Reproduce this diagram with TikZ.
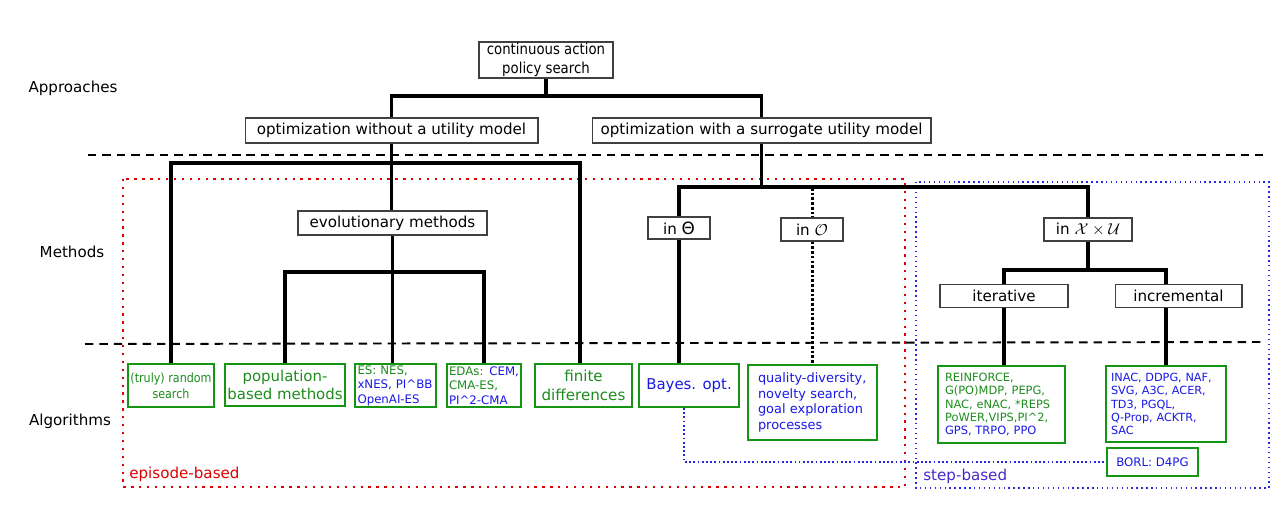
\documentclass[tikz,border=0pt]{standalone}
\usepackage{fontspec}
\setmainfont{DejaVu Sans}
\newfontfamily\condfont[FakeStretch=0.88]{DejaVu Sans}
\usepackage{tikz}

\definecolor{algogreen}{RGB}{20,150,20}
\definecolor{textgreen}{RGB}{30,140,30}
\definecolor{textblue}{RGB}{25,25,230}
\definecolor{epired}{RGB}{220,0,0}
\definecolor{stepblue}{RGB}{40,40,225}
\definecolor{steptext}{RGB}{70,40,200}

\newcommand\boxfnt{\fontsize{8.6pt}{10.3pt}\selectfont}
\newcommand\algofnt{\fontsize{8.5pt}{10.5pt}\selectfont}

\tikzset{
  box/.style={draw=black!75,line width=0.6pt,fill=white,inner sep=0pt,font=\boxfnt},
  algo/.style={draw=algogreen,line width=1.2pt,fill=white,inner sep=0pt},
  lbl/.style={inner sep=0pt,font=\boxfnt},
  tree/.style={line width=1.8pt},
  blackdots/.style={line width=1.7pt,dash pattern=on 1.5pt off 1.2pt},
  sep/.style={line width=1.1pt,dash pattern=on 4.8pt off 3.4pt},
  epidots/.style={draw=epired,line width=1.4pt,dash pattern=on 1.3pt off 3.2pt},
  stepdots/.style={draw=stepblue,line width=0.9pt,dash pattern=on 0.8pt off 2pt},
  bluedots/.style={draw=stepblue,line width=1.1pt,dash pattern=on 1pt off 1.4pt}
}

\begin{document}
\begin{tikzpicture}[x=0.02cm,y=-0.02cm]
  \useasboundingbox (0,0) rectangle (1284,515);
  % row labels
  \node[lbl] (appr) at (73,88) {Approaches};
  \node[lbl] (meth) at (72,252) {Methods};
  \node[lbl] (algs) at (70,421) {Algorithms};
  % approaches
  \node[box,minimum width=2.68cm,minimum height=0.72cm,align=center,
        font=\condfont\fontsize{8.6pt}{10.6pt}\selectfont] (top) at (546,60)
        {continuous action\\policy search};
  \node[box,minimum width=5.86cm,minimum height=0.5cm] (wo) at (391.5,130.5)
        {optimization without a utility model};
  \node[box,minimum width=6.78cm,minimum height=0.5cm] (ws) at (761.5,130.5)
        {optimization with a surrogate utility model};
  % methods
  \node[box,minimum width=3.78cm,minimum height=0.48cm] (evo) at (392.5,223) {evolutionary methods};
  \node[box,minimum width=1.24cm,minimum height=0.44cm] (theta) at (679,228)
        {in {\fontsize{9.6pt}{10pt}\selectfont Θ}};
  \node[box,minimum width=1.24cm,minimum height=0.46cm] (obs) at (812,229.5) {in $\mathcal{O}$};
  \node[box,minimum width=1.76cm,minimum height=0.46cm] (xu) at (1088,229.5)
        {in $\mathcal{X}\times\mathcal{U}$};
  \node[box,minimum width=2.56cm,minimum height=0.46cm] (iter) at (1004,296) {iterative};
  \node[box,minimum width=2.54cm,minimum height=0.46cm] (incr) at (1178.5,296) {incremental};
  % algorithms
  \node[algo,minimum width=1.72cm,minimum height=0.86cm,align=center,text=textgreen,
        font=\condfont\fontsize{7.2pt}{9pt}\selectfont] (random) at (171,385.5)
        {(truly) random\\search};
  \node[algo,minimum width=2.4cm,minimum height=0.84cm,align=center,text=textgreen,
        font=\fontsize{8.5pt}{10pt}\selectfont] (pop) at (285,385)
        {population-\\based methods};
  \node[algo,minimum width=1.62cm,minimum height=0.86cm,text width=1.52cm,inner xsep=0.05cm,
        align=left,text=textblue,font=\fontsize{6.7pt}{8.2pt}\selectfont] (es) at (395.5,385.5)
        {{\color{textgreen}ES: NES,}\\xNES, PI\textasciicircum BB\\OpenAI-ES};
  \node[algo,minimum width=1.48cm,minimum height=0.86cm,text width=1.4cm,inner xsep=0.04cm,
        align=left,text=textblue,font=\fontsize{6.7pt}{8.2pt}\selectfont] (eda) at (484,385.5)
        {{\color{textgreen}EDAs:} CEM,\\{\color{textgreen}CMA-ES,}\\PI\textasciicircum2-CMA};
  \node[algo,minimum width=1.94cm,minimum height=0.86cm,align=center,text=textgreen,
        font=\fontsize{8.6pt}{10.5pt}\selectfont] (fd) at (583.5,385.5)
        {finite\\differences};
  \node[algo,minimum width=2cm,minimum height=0.86cm,text=textblue,
        font=\fontsize{8.5pt}{10pt}\selectfont] (bayes) at (689,385.5) {Bayes. opt.};
  \node[algo,minimum width=2.58cm,minimum height=1.5cm,text width=2.18cm,inner xsep=0.2cm,
        align=left,text=textblue,font=\fontsize{7.35pt}{8.9pt}\selectfont] (qd) at (812.5,402.5)
        {quality-diversity,\\novelty search,\\goal exploration\\processes};
  \node[algo,minimum width=2.54cm,minimum height=1.54cm,text width=2.26cm,inner xsep=0.14cm,
        align=left,text=textgreen,font=\fontsize{6.5pt}{7.6pt}\selectfont] (rf) at (1001.5,404.5)
        {REINFORCE,\\G(PO)MDP, PEPG,\\NAC, eNAC, *REPS\\PoWER,VIPS,PI\textasciicircum2,\\
         {\color{textblue}GPS, TRPO, PPO}};
  \node[algo,minimum width=2.4cm,minimum height=1.52cm,text width=2.2cm,inner xsep=0.1cm,
        align=left,text=textblue,font=\fontsize{6.4pt}{7.6pt}\selectfont] (inac) at (1166,404)
        {INAC, DDPG, NAF,\\SVG, A3C, ACER,\\TD3, PGQL,\\Q-Prop, ACKTR,\\SAC};
  \node[algo,minimum width=1.82cm,minimum height=0.56cm,text=textblue,
        font=\fontsize{6.7pt}{8pt}\selectfont] (borl) at (1152.5,462) {BORL: D4PG};
  % regions
  \node[lbl,anchor=west,text=epired] (epi) at (129,474) {episode-based};
  \node[lbl,anchor=west,text=steptext] (stp) at (923,476) {step-based};
  \draw[epidots] (123,179) rectangle (905,487);
  \draw[stepdots] (916,182) rectangle (1269,488);
  \draw[sep] (88,155) -- (1265,155);
  \draw[sep] (85,344) -- (1265,342);
  % tree
  \draw[tree] (top.south) -- (top.south |- 0,96);
  \draw[tree] (wo.north) |- (ws.north |- 0,96) -- (ws.north);
  \draw[tree] (wo.south) -- (wo.south |- evo.north);
  \draw[tree] (random.north) |- (wo.south |- 0,163) -| ([xshift=-0.07cm]fd.north);
  \draw[tree] (evo.south) -- (evo.south |- es.north);
  \draw[tree] (pop.north) |- (evo.south |- 0,272) -| (eda.north);
  \draw[tree] (ws.south) -- (ws.south |- 0,187);
  \draw[tree] (theta.north) |- (ws.south |- 0,187) -| (xu.north);
  \draw[tree] (theta.south) -- (theta.south |- bayes.north);
  \draw[blackdots] (obs.north |- 0,188) -- (obs.north);
  \draw[blackdots] (obs.south) -- (obs.south |- qd.north);
  \draw[tree] (xu.south) -- (xu.south |- 0,270);
  \draw[tree] (iter.north) |- (xu.south |- 0,270) -| (inac.north |- incr.north);
  \draw[tree] (inac.north |- incr.south) -- (inac.north);
  \draw[tree] (iter.south) -- (iter.south |- rf.north);
  \draw[bluedots] ([xshift=-0.1cm]bayes.south) |- (borl.west);
\end{tikzpicture}
\end{document}
